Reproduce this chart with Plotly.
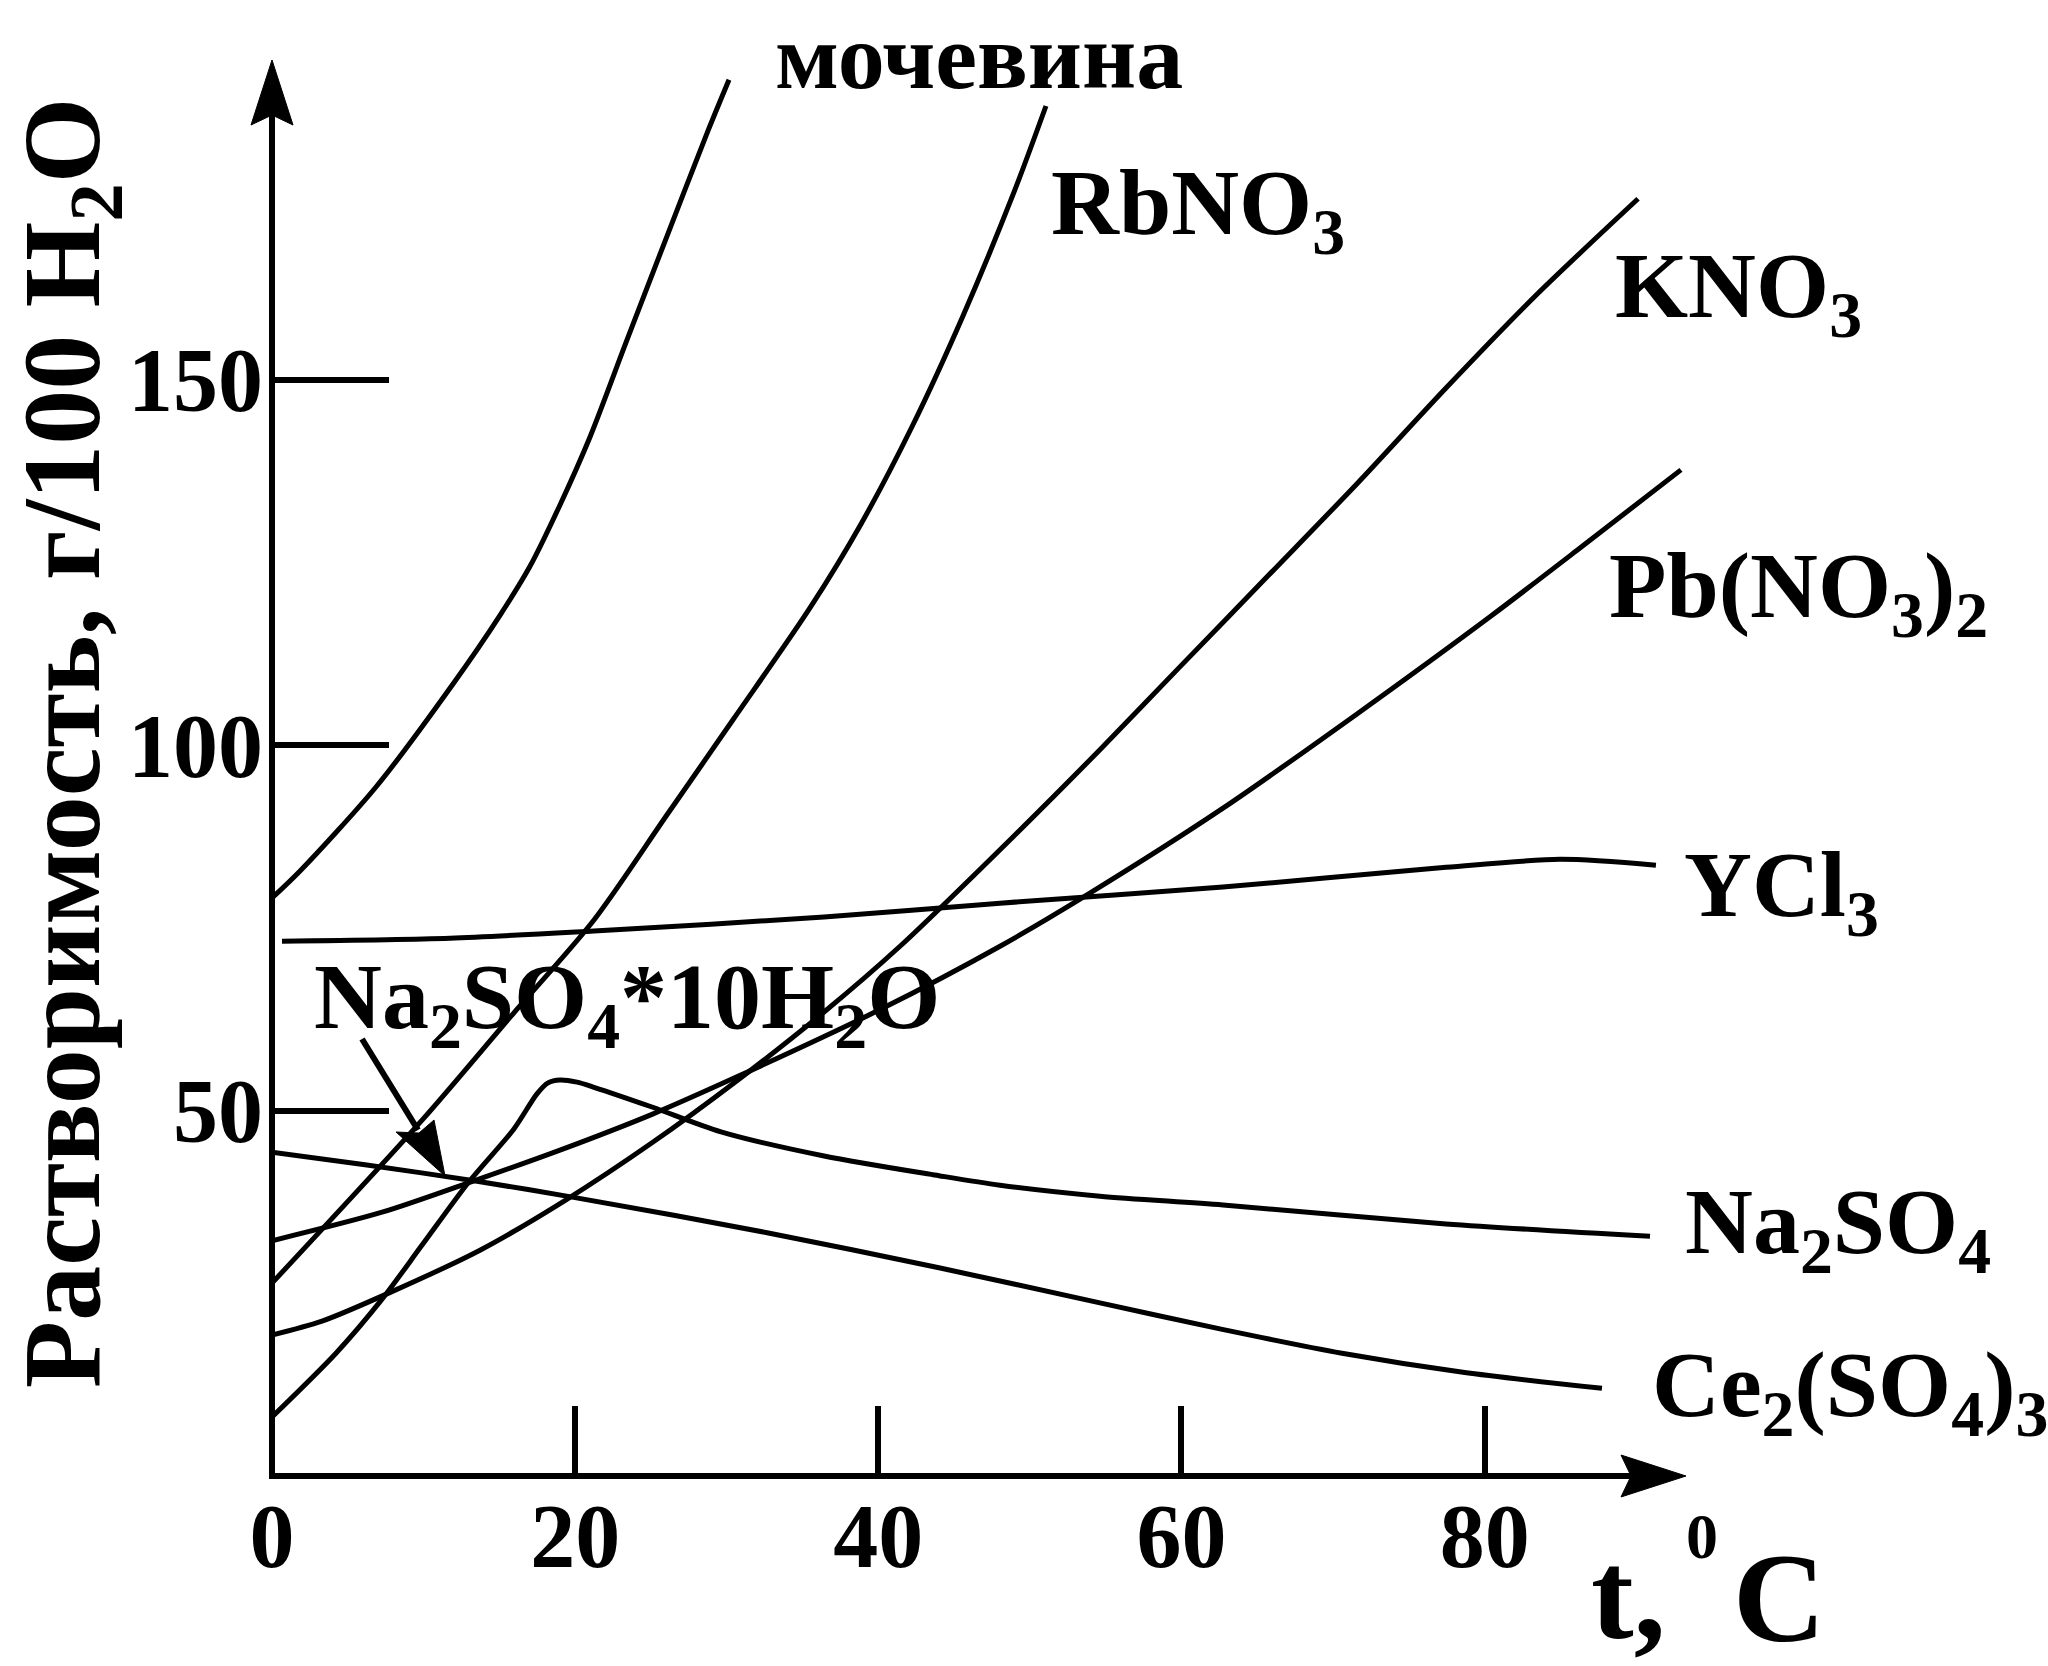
import plotly.graph_objects as go

# ---------------- data (t, °C ; solubility, g/100 g H2O) ----------------
urea_t = [0, 1.85, 6.86, 11.94, 15.04, 17.02, 19.00, 20.98, 23.35, 26.06, 28.76, 30.15]
urea_s = [79.1, 82.8, 94.3, 108.4, 117.8, 124.5, 132.9, 142.2, 155.1, 169.7, 184.1, 191.1]

rbno3_t = [0, 9.90, 15.96, 21.24, 26.06, 30.48, 35.49, 38.86, 42.22, 45.59, 48.95, 51.06]
rbno3_s = [26.4, 48.7, 63.4, 76.1, 90.5, 103.7, 118.8, 130.3, 143.6, 158.8, 175.7, 187.5]

kno3_t = [0, 3.30, 7.98, 13.72, 19.40, 25.07, 30.74, 36.42, 41.43, 48.95, 54.62,
          59.83, 65.71, 71.58, 77.45, 83.39, 90.12]
kno3_s = [19.3, 21.2, 25.3, 30.9, 37.8, 45.6, 54.2, 63.5, 72.5, 87.6, 99.4,
          110.6, 123.2, 135.8, 148.9, 161.6, 174.8]

pbno32_t = [0, 7.26, 13.33, 19.0, 25.07, 30.74, 40.18, 48.03, 53.90, 62.74, 71.58, 80.42, 86.29, 92.95]
pbno32_s = [32.2, 36.1, 40.4, 44.6, 49.5, 54.7, 63.9, 72.5, 79.7, 91.4, 104.3, 117.7, 127.0, 137.7]

ycl3_t = [0.66, 11.74, 21.24, 36.42, 48.03, 62.74, 77.45, 84.97, 91.30]
ycl3_s = [73.2, 73.6, 74.6, 76.5, 78.4, 80.6, 83.3, 84.4, 83.6]

na2so4_t = [0, 4.22, 7.26, 9.90, 12.93, 15.96, 17.48, 18.21, 19.0, 20.12, 21.24, 25.07,
            29.62, 36.42, 44.0, 48.03, 54.62, 62.74, 77.45, 90.91]
na2so4_s = [8.07, 16.8, 24.2, 31.6, 40.1, 47.5, 52.3, 53.8, 54.2, 53.9, 53.2, 50.5,
            47.1, 43.8, 41.1, 39.8, 38.3, 37.1, 34.5, 32.8]

ce2so43_t = [0, 6.14, 13.33, 19.72, 32.66, 44.0, 54.62, 62.61, 70.59, 78.57, 87.74]
ce2so43_s = [44.3, 42.6, 40.4, 38.2, 33.3, 28.5, 23.7, 20.1, 16.8, 14.2, 12.0]

x_tick_vals = [0, 20, 40, 60, 80]
y_tick_vals = [50, 100, 150]

series = [
    (urea_t, urea_s),
    (rbno3_t, rbno3_s),
    (kno3_t, kno3_s),
    (pbno32_t, pbno32_s),
    (ycl3_t, ycl3_s),
    (na2so4_t, na2so4_s),
    (ce2so43_t, ce2so43_s),
]

# ---------------- layout geometry (pixels) ----------------
W, H = 2048, 1666
L, R, T, B = 272, 1686, 60, 1476          # plot area
PX_PER_DEG = 15.158
PX_PER_G = 7.3067
X_MAX = (R - L) / PX_PER_DEG
Y_MAX = (B - T) / PX_PER_G
SERIF = "Liberation Serif"


def xp(px):
    return (px - L) / (R - L)


def yp(py):
    return (B - py) / (B - T)


fig = go.Figure()
for tx, sy in series:
    fig.add_trace(go.Scatter(
        x=tx, y=sy, mode="lines",
        line=dict(color="black", width=5, shape="spline", smoothing=0.8),
        showlegend=False, hoverinfo="skip",
    ))

ASC = 0.891


def label(text, left, baseline, size):
    return dict(
        text=text, x=xp(left), y=yp(baseline - ASC * size),
        xref="paper", yref="paper", xanchor="left", yanchor="top",
        showarrow=False, borderpad=0,
        font=dict(family=SERIF, size=size, color="black", weight="bold"),
    )


annotations = [
    label("мочевина", 774, 87, 94),
    label("RbNO<sub>3</sub>", 1050, 233, 94),
    label("KNO<sub>3</sub>", 1614, 316, 94),
    label("Pb(NO<sub>3</sub>)<sub>2</sub>", 1608, 616, 94),
    label("YCl<sub>3</sub>", 1683, 915, 94),
    label("Na<sub>2</sub>SO<sub>4</sub>", 1684, 1252, 94),
    label("Ce<sub>2</sub>(SO<sub>4</sub>)<sub>3</sub>", 1651, 1415, 94),
    label("Na<sub>2</sub>SO<sub>4</sub>*10H<sub>2</sub>O", 313, 1027, 94),
    label("t,", 1590, 1637, 128),
    label("0", 1685, 1557, 64),
    label("C", 1732, 1640, 128),
    dict(
        text="Растворимость, г/100 H<sub>2</sub>O", textangle=-90,
        x=xp(70), y=yp(743), xref="paper", yref="paper",
        xanchor="center", yanchor="middle", showarrow=False, borderpad=0,
        font=dict(family=SERIF, size=110, color="black", weight="bold"),
    ),
]

shapes = [
    # x axis line and arrow head
    dict(type="line", xref="paper", yref="paper", x0=xp(269), x1=xp(1640), y0=yp(1476), y1=yp(1476),
         line=dict(color="black", width=6)),
    dict(type="path", xref="paper", yref="paper",
         path=f"M{xp(1686)},{yp(1476)} L{xp(1621)},{yp(1455)} L{xp(1631)},{yp(1476)} "
              f"L{xp(1621)},{yp(1497)} Z",
         fillcolor="black", line=dict(color="black", width=1)),
    # y axis line and arrow head
    dict(type="line", xref="paper", yref="paper", x0=xp(272), x1=xp(272), y0=yp(1479), y1=yp(110),
         line=dict(color="black", width=6)),
    dict(type="path", xref="paper", yref="paper",
         path=f"M{xp(272)},{yp(60)} L{xp(251)},{yp(125)} L{xp(272)},{yp(115)} "
              f"L{xp(293)},{yp(125)} Z",
         fillcolor="black", line=dict(color="black", width=1)),
    # pointer arrow for Na2SO4*10H2O
    dict(type="line", xref="paper", yref="paper", x0=xp(362), y0=yp(1039), x1=xp(418), y1=yp(1130),
         line=dict(color="black", width=6)),
    dict(type="path", xref="paper", yref="paper",
         path=f"M{xp(445)},{yp(1176)} L{xp(396)},{yp(1132)} L{xp(419)},{yp(1133)} "
              f"L{xp(434)},{yp(1120)} Z",
         fillcolor="black", line=dict(color="black", width=1)),
]

tickfont = dict(family=SERIF, size=90, color="black", weight="bold")

fig.update_layout(
    width=W, height=H,
    margin=dict(l=L, r=W - R, t=T, b=H - B, pad=0),
    paper_bgcolor="white", plot_bgcolor="white",
    showlegend=False,
    annotations=annotations,
    shapes=shapes,
    xaxis=dict(
        range=[0, X_MAX], showgrid=False, zeroline=False, showline=False,
        ticks="inside", ticklen=70, tickwidth=6, tickcolor="black",
        tickvals=x_tick_vals, tickfont=tickfont, ticklabelstandoff=0,
        fixedrange=True,
    ),
    yaxis=dict(
        range=[0, Y_MAX], showgrid=False, zeroline=False, showline=False,
        ticks="inside", ticklen=117, tickwidth=6, tickcolor="black",
        tickvals=y_tick_vals, tickfont=tickfont, ticklabelstandoff=8,
        fixedrange=True,
    ),
)

fig.write_html("out.html")
